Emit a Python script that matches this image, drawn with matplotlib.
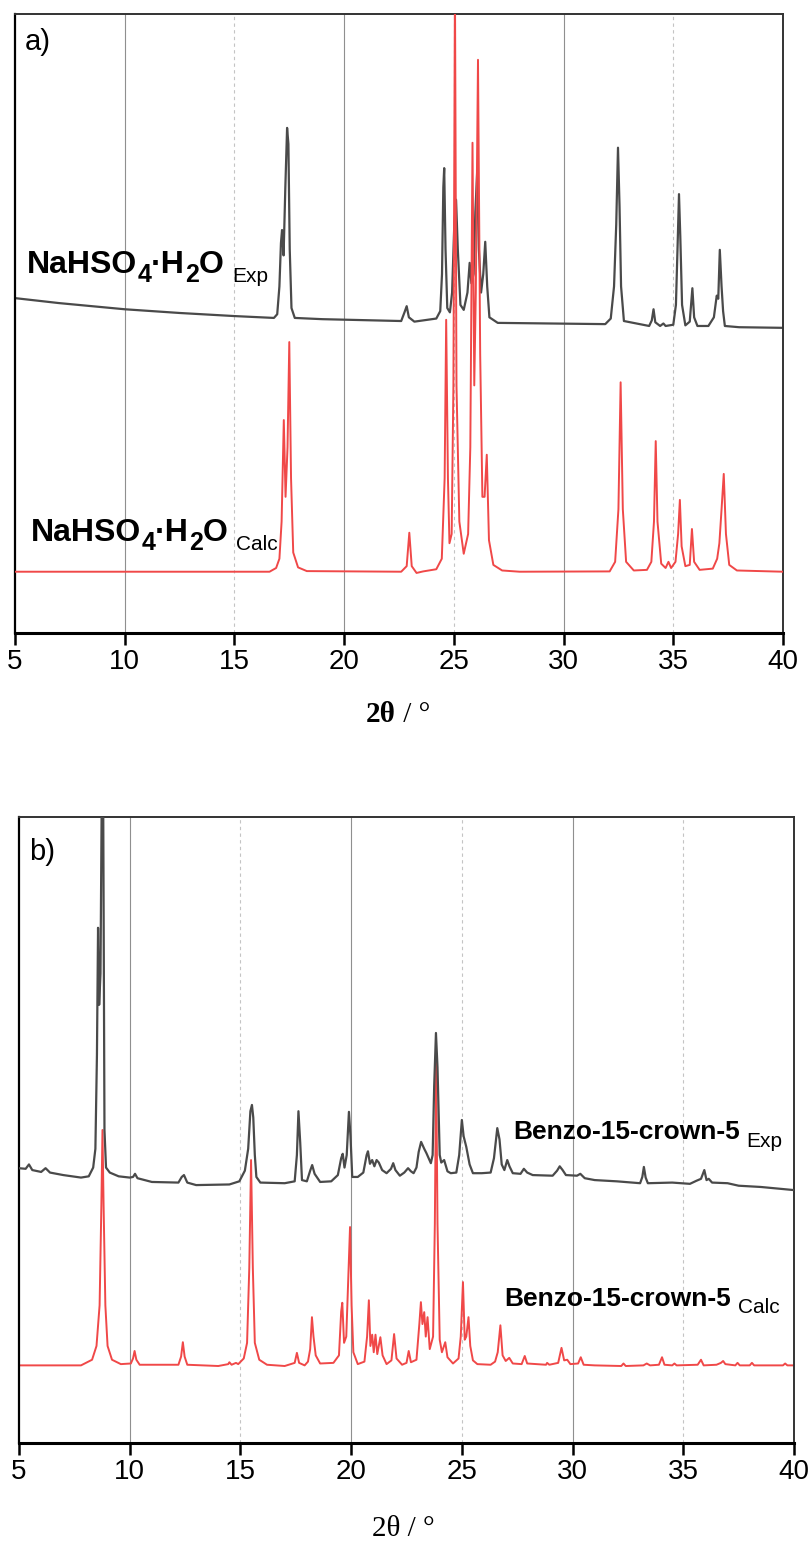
import matplotlib
matplotlib.use("Agg")
import matplotlib.pyplot as plt
from matplotlib.transforms import IdentityTransform

# panel a) NaHSO4.H2O, experimental pattern (2theta, intensity)
na_exp_x = [5, 7, 10, 12.5, 15, 16.8, 16.95, 17.05, 17.12, 17.17, 17.24, 17.32, 17.4, 17.46, 17.52, 17.6,
            17.75, 19, 22.6, 22.75, 22.85, 22.95, 23.2, 24.2, 24.38, 24.46, 24.52, 24.56, 24.62, 24.7,
            24.82, 24.92, 25.02, 25.1, 25.18, 25.3, 25.45, 25.62, 25.72, 25.8, 25.9, 25.98, 26.06, 26.14,
            26.24, 26.34, 26.43, 26.52, 26.62, 27.0, 31.9, 32.15, 32.3, 32.4, 32.48, 32.55, 32.62, 32.75,
            33.9, 34.02, 34.1, 34.18, 34.4, 34.55, 34.65, 35.0, 35.12, 35.2, 35.26, 35.32, 35.4, 35.55,
            35.75, 35.87, 35.95, 36.1, 36.6, 36.85, 36.98, 37.05, 37.12, 37.2, 37.27, 37.35, 38, 40]
na_exp_y = [54.1, 53.3, 52.3, 51.7, 51.2, 50.9, 51.5, 56, 63, 65.1, 61, 72, 81.6, 79, 62, 52.5,
            50.9, 50.7, 50.4, 51.8, 52.8, 51, 50.3, 50.8, 52, 58, 72, 75.1, 62, 52.5,
            51.8, 55, 66, 70, 62, 53, 52.2, 55, 59.8, 56.5, 58, 68, 74.3, 62,
            55, 58, 63.2, 56, 51, 50.1, 49.9, 50.8, 56, 66, 78.4, 69, 56, 50.4,
            49.6, 50.5, 52.3, 50.2, 49.6, 50.0, 49.6, 49.8, 53, 63, 70.9, 64, 53, 49.7,
            50.3, 55.7, 51, 49.6, 49.6, 51, 54.5, 54, 61.9, 56, 52, 49.6, 49.4, 49.3]

# panel a) NaHSO4.H2O, calculated pattern
na_calc_x = [5, 16.6, 16.9, 17.05, 17.15, 17.25, 17.33, 17.42, 17.5, 17.58, 17.68, 17.9, 18.3, 22.6,
             22.85, 22.97, 23.08, 23.3, 23.6, 24.2, 24.45, 24.58, 24.65, 24.73, 24.8, 24.9, 24.98,
             25.05, 25.12, 25.25, 25.45, 25.65, 25.75, 25.85, 25.93, 26.0, 26.1, 26.2, 26.3, 26.4,
             26.5, 26.6, 26.8, 27.2, 28, 32.1, 32.35, 32.5, 32.6, 32.7, 32.85, 33.2, 33.8, 34.0, 34.12,
             34.2, 34.28, 34.45, 34.65, 34.78, 34.9, 35.1, 35.22, 35.3, 35.38, 35.55, 35.75, 35.85,
             35.95, 36.2, 36.8, 37.0, 37.1, 37.2, 37.3, 37.4, 37.55, 37.9, 40]
na_calc_y = [9.9, 9.9, 10.5, 12, 18, 34.4, 22, 30, 47.0, 25, 13, 10.6, 10.0, 9.9,
             10.8, 16.2, 10.8, 9.7, 9.95, 10.3, 12, 25, 50.6, 25, 14.5, 16, 40,
             105, 40, 18, 12.8, 16, 30, 79.2, 40, 55, 92.6, 45, 22, 22,
             28.8, 15, 11, 10.1, 9.9, 9.95, 11.5, 20, 40.5, 20, 11.5, 10.1, 10.2, 11.5, 18,
             31.0, 18, 11.2, 10.5, 11.5, 10.5, 11.5, 16, 21.5, 14, 10.8, 11, 16.8,
             11.5, 10.2, 10.4, 12, 14.5, 20, 25.7, 16, 11, 10.1, 9.9]

# panel b) Benzo-15-crown-5, experimental pattern
bz_exp_x = [5, 5.3, 5.45, 5.6, 6.0, 6.2, 6.4, 7.0, 7.8, 8.15, 8.35, 8.45, 8.52, 8.57, 8.62, 8.68, 8.74,
            8.8, 8.86, 8.93, 9.1, 9.5, 10.0, 10.15, 10.24, 10.35, 11.0, 12.2, 12.35, 12.45, 12.6, 13.0,
            14.5, 14.95, 15.2, 15.35, 15.45, 15.52, 15.58, 15.65, 15.72, 15.9, 17.0, 17.45, 17.55,
            17.62, 17.7, 17.78, 18.0, 18.15, 18.24, 18.35, 18.6, 19.1, 19.4, 19.55, 19.62, 19.7, 19.8,
            19.9, 19.97, 20.05, 20.3, 20.55, 20.7, 20.76, 20.85, 20.95, 21.05, 21.15, 21.25, 21.4, 21.6,
            21.8, 21.9, 22.0, 22.2, 22.4, 22.57, 22.7, 22.82, 22.95, 23.05, 23.16, 23.3, 23.4, 23.6,
            23.68, 23.75, 23.83, 23.9, 23.95, 24.0, 24.07, 24.2, 24.35, 24.5, 24.75, 24.88, 25.0, 25.08,
            25.2, 25.35, 25.5, 25.9, 26.3, 26.45, 26.6, 26.7, 26.8, 26.92, 27.05, 27.15, 27.3, 27.65,
            27.8, 27.95, 28.2, 29.1, 29.3, 29.42, 29.55, 29.7, 30.2, 30.35, 30.55, 31.0, 32.0, 33.05,
            33.15, 33.22, 33.3, 33.4, 34.5, 35.3, 35.6, 35.8, 35.95, 36.05, 36.15, 36.3, 37.0, 37.5,
            38.5, 40]
bz_exp_y = [43.9, 43.8, 44.5, 43.6, 43.3, 43.9, 43.2, 42.8, 42.4, 42.6, 44, 47, 62, 82.3, 70, 75, 105,
            105, 50, 44, 43.2, 42.6, 42.4, 42.5, 43.0, 42.3, 41.7, 41.6, 42.5, 42.8, 41.6, 41.2,
            41.3, 41.8, 43.5, 47, 53, 54.0, 52, 46, 42.5, 41.6, 41.5, 41.8, 46,
            53.0, 48, 42, 41.8, 43.5, 44.4, 43, 41.7, 41.8, 42.8, 45.5, 46.2, 44, 46,
            52.9, 49, 42.5, 42.5, 43.2, 46, 46.6, 44.6, 45.2, 44.2, 45.2, 44.8, 43.6, 43.1,
            43.8, 44.7, 43.6, 42.7, 43.2, 43.9, 43.4, 43.1, 44, 46.5, 48.1, 47, 46.3, 44.7,
            46, 57, 65.5, 60, 52.7, 46, 44.8, 45.2, 43.4, 43.1, 43.2, 46, 51.6, 49,
            47.3, 44.5, 43.1, 43.1, 43.2, 45.5, 50.3, 48.5, 44.5, 43.6, 45.2, 44.2, 43.1, 43,
            43.8, 43.2, 42.8, 42.7, 43.5, 44.2, 43.6, 42.8, 42.7, 43.0, 42.3, 42.0, 41.8, 41.5,
            42.5, 44.1, 42.4, 41.5, 41.6, 41.4, 41.9, 42.2, 43.6, 42.0, 42.2, 41.6, 41.5, 41.1,
            40.9, 40.4]

# panel b) Benzo-15-crown-5, calculated pattern
bz_calc_x = [5, 7.8, 8.3, 8.5, 8.64, 8.72, 8.77, 8.82, 8.9, 9.0, 9.2, 9.6, 10.05, 10.15, 10.22, 10.3,
             10.45, 12.2, 12.32, 12.4, 12.48, 12.6, 14.0, 14.45, 14.5, 14.6, 14.8, 14.9, 15.15, 15.3,
             15.4, 15.48, 15.56, 15.65, 15.85, 16.2, 17.0, 17.45, 17.55, 17.65, 17.9, 18.05, 18.15,
             18.23, 18.3, 18.4, 18.6, 19.2, 19.45, 19.55, 19.6, 19.68, 19.78, 19.88, 19.95, 20.02,
             20.1, 20.3, 20.6, 20.72, 20.8, 20.87, 20.95, 21.02, 21.1, 21.18, 21.32, 21.42, 21.6,
             21.82, 21.94, 22.05, 22.3, 22.5, 22.6, 22.7, 22.95, 23.08, 23.15, 23.22, 23.3, 23.37,
             23.45, 23.55, 23.7, 23.78, 23.84, 23.9, 24.0, 24.1, 24.25, 24.35, 24.6, 24.85, 24.95,
             25.05, 25.13, 25.2, 25.3, 25.38, 25.5, 25.7, 26.3, 26.5, 26.62, 26.74, 26.84, 26.98,
             27.14, 27.3, 27.7, 27.84, 27.95, 28.8, 28.85, 28.95, 29.35, 29.5, 29.62, 29.76, 29.9,
             30.25, 30.37, 30.5, 31.0, 32.2, 32.3, 32.4, 33.2, 33.35, 33.5, 33.9, 34.04, 34.15, 34.5,
             34.6, 34.7, 35.65, 35.8, 35.92, 36.5, 36.7, 36.8, 36.9, 37.35, 37.45, 37.55, 38.0, 38.1,
             38.2, 39.5, 39.6, 39.7, 40]
bz_calc_y = [12.4, 12.4, 13.3, 15.5, 22, 38, 50, 38, 22, 15.5, 13.3, 12.6, 12.7, 13.5, 14.7, 13.3,
             12.5, 12.5, 13.8, 16.1, 13.8, 12.5, 12.3, 12.6, 12.9, 12.5, 12.8, 12.6, 13.5, 16,
             28, 45.2, 28, 16, 13.3, 12.5, 12.3, 12.8, 14.4, 12.8, 12.4, 13, 15,
             20.1, 17, 14, 12.7, 12.8, 14, 21, 22.4, 16, 17, 27, 34.5, 22,
             14.5, 12.6, 13, 17, 22.8, 15.5, 17.3, 14.5, 17.3, 14.2, 16.9, 14, 12.6,
             13.2, 17.4, 13.5, 12.5, 12.8, 14.7, 12.9, 13.3, 19, 22.5, 19, 20.9, 17,
             20.1, 15, 17, 35, 60.8, 35, 16.5, 14.5, 16.1, 13.7, 12.7, 13.5, 17,
             25.7, 16.5, 17, 20.1, 15.5, 13.2, 12.6, 12.5, 13, 14.5, 18.8, 14, 13.1,
             13.6, 12.7, 12.6, 13.9, 12.7, 12.5, 12.8, 12.5, 12.8, 15.2, 13.2, 13.3, 12.6,
             12.7, 13.7, 12.5, 12.4, 12.3, 12.7, 12.3, 12.4, 12.7, 12.4, 12.5, 13.7, 12.5, 12.4,
             12.7, 12.4, 12.5, 13.3, 12.4, 12.5, 12.8, 13.1, 12.6, 12.4, 12.8, 12.4, 12.4, 12.8,
             12.4, 12.4, 12.7, 12.4, 12.4]

ticks = [5, 10, 15, 20, 25, 30, 35, 40]
grey = "#4a4a4a"
red = "#f04848"
W, H = 811, 1542

fig = plt.figure(figsize=(W / 100, H / 100), dpi=100)
ax_a = fig.add_axes([15 / W, 1 - 633 / H, 768 / W, 619 / H])
ax_b = fig.add_axes([19 / W, 1 - 1443 / H, 775 / W, 626 / H])


def style(ax):
    ax.set_xlim(5, 40)
    ax.set_ylim(0, 100)
    ax.set_yticks([])
    for g in (10, 20, 30):
        ax.axvline(g, color="#8f8f8f", lw=0.8, zorder=0)
    for g in (15, 25, 35):
        ax.axvline(g, color="#c4c4c4", lw=0.8, ls=(0, (3, 3)), zorder=0)
    ax.set_xticks(ticks)
    ax.set_xticklabels([str(t) for t in ticks], fontsize=20, family="Liberation Sans")
    ax.tick_params(axis="x", direction="out", length=8.5, width=1.8, pad=3, color="black")
    ax.spines["bottom"].set_linewidth(2.2)
    ax.spines["left"].set_linewidth(1.6)
    for s in ("top", "right"):
        ax.spines[s].set_linewidth(1.4)
        ax.spines[s].set_color("#333333")


style(ax_a)
style(ax_b)

ax_a.plot(na_exp_x, na_exp_y, color=grey, lw=1.6, zorder=2)
ax_a.plot(na_calc_x, na_calc_y, color=red, lw=1.4, zorder=3)
ax_b.plot(bz_calc_x, bz_calc_y, color=red, lw=1.4, zorder=2)
ax_b.plot(bz_exp_x, bz_exp_y, color=grey, lw=1.6, zorder=3)

renderer = fig.canvas.get_renderer()


def label(x, base, parts, family="Liberation Sans"):
    # parts: (text, size, weight, drop in px, gap before in px)
    for s, size, weight, drop, gap in parts:
        x += gap
        t = fig.text(x, H - base - drop, s, fontsize=size, fontweight=weight, family=family,
                     va="baseline", ha="left", transform=IdentityTransform())
        x += t.get_window_extent(renderer).width


def formula(x, base, tag):
    label(x, base, [("NaHSO", 23, "bold", 0, 0), ("4", 18, "bold", 9, 0),
                    ("\u00b7H", 23, "bold", 0, 0), ("2", 18, "bold", 9, 0),
                    ("O", 23, "bold", 0, 0), (tag, 15, "normal", 9, 8)])


formula(27, 273, "Exp")
formula(31, 541, "Calc")
label(513, 1139, [("Benzo-15-crown-5", 19, "bold", 0, 0), ("Exp", 15, "normal", 8, 7)])
label(504, 1306, [("Benzo-15-crown-5", 19, "bold", 0, 0), ("Calc", 15, "normal", 7, 7)])

label(25, 50, [("a)", 21, "normal", 0, 0)])
label(29, 860, [("b)", 21, "normal", 0, 0)])

label(366, 722, [("2\u03b8", 21, "bold", 0, 0), (" / \u00b0", 21, "normal", 0, 0)],
      family="Liberation Serif")
label(372, 1536, [("2\u03b8 / \u00b0", 21, "normal", 0, 0)], family="Liberation Serif")

fig.savefig("out.png", dpi=100)
